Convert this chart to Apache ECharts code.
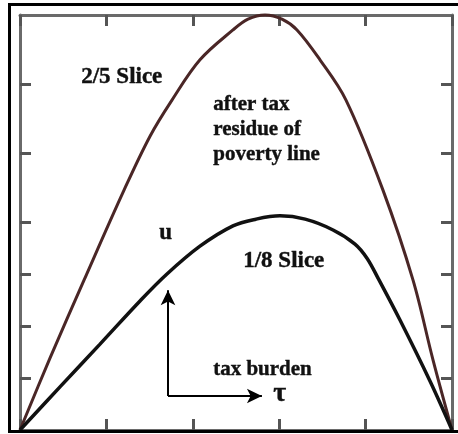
<!DOCTYPE html>
<html>
<head>
<meta charset="utf-8">
<script src="https://cdn.jsdelivr.net/npm/echarts@6/dist/echarts.min.js"></script>
<style>
  html, body { margin: 0; padding: 0; background: #fff; }
  #chart { width: 458px; height: 434px; }
</style>
</head>
<body>
<div id="chart"></div>
<script>
// tau (0..5) against u (0..1, top of the 2/5 slice = 1)
var sliceTwoFifthsX = [0, 0.347, 0.741, 1.204, 1.505, 1.759, 2.083, 2.465, 2.639, 2.836, 3.032, 3.206, 3.472, 3.773, 4.201, 4.549, 4.78, 5];
var sliceTwoFifthsY = [0, 0.173, 0.361, 0.578, 0.708, 0.795, 0.892, 0.964, 0.99, 1.0, 0.99, 0.964, 0.892, 0.795, 0.578, 0.361, 0.169, 0];

var sliceOneEighthX = [0, 0.463, 0.926, 1.389, 1.701, 2.083, 2.465, 2.731, 3.009, 3.3, 3.623, 3.877, 4.016, 4.144, 4.398, 4.745, 5];
var sliceOneEighthY = [0, 0.104, 0.207, 0.311, 0.376, 0.443, 0.492, 0.508, 0.516, 0.508, 0.482, 0.448, 0.414, 0.366, 0.265, 0.118, 0];

var xTickInterval = 1;
var yTickValues = [0.125, 0.25, 0.375, 0.5, 0.667, 0.833];

// axes arrow (u up, tau right) in data units
var arrowOrigin = [1.713, 0.082];
var arrowUpEnd = [1.713, 0.337];
var arrowRightEnd = [2.8, 0.082];

function pairs(xs, ys) {
    var out = [];
    for (var i = 0; i < xs.length; i++) out.push([xs[i], ys[i]]);
    return out;
}

var myChart = echarts.init(document.getElementById('chart'));

var serif = '"Liberation Serif", "Times New Roman", serif';
function label(text, x, y, size) {
    return {
        type: 'text', left: x, top: y, z: 10,
        style: { text: text, font: 'bold ' + size + 'px ' + serif, fill: '#111', stroke: '#111', lineWidth: 0.4 }
    };
}

var axisLineStyle = { color: '#6a6a6a', width: 3 };
var tickStyle = { color: '#555', width: 3 };

function xAxisCfg(pos) {
    return {
        type: 'value', position: pos, min: 0, max: 5, interval: xTickInterval,
        axisLine: { show: true, onZero: false, lineStyle: axisLineStyle },
        axisTick: { show: true, inside: true, length: 11, lineStyle: tickStyle },
        axisLabel: { show: false },
        splitLine: { show: false }
    };
}
function yAxisCfg(pos) {
    return {
        type: 'value', position: pos, min: 0, max: 1,
        axisLine: { show: true, onZero: false, lineStyle: axisLineStyle },
        axisTick: { show: true, inside: true, length: 11, lineStyle: tickStyle, customValues: yTickValues },
        axisLabel: { show: false },
        splitLine: { show: false }
    };
}

var option = {
    backgroundColor: '#ffffff',
    animation: false,
    grid: { left: 20, top: 15, right: 6, bottom: 4 },
    xAxis: [xAxisCfg('bottom'), xAxisCfg('top')],
    yAxis: [yAxisCfg('left'), yAxisCfg('right')],
    series: [
        {
            name: '2/5 Slice', type: 'line', smooth: 0.35, showSymbol: false, clip: false,
            data: pairs(sliceTwoFifthsX, sliceTwoFifthsY),
            lineStyle: { color: '#4a2626', width: 3 }
        },
        {
            name: '1/8 Slice', type: 'line', smooth: 0.35, showSymbol: false,
            data: pairs(sliceOneEighthX, sliceOneEighthY),
            lineStyle: { color: '#111', width: 3.5 },
            markLine: {
                silent: true, symbol: ['none', 'arrow'], symbolSize: [11, 15],
                label: { show: false },
                lineStyle: { color: '#000', width: 2, type: 'solid' },
                data: [
                    [{ coord: arrowOrigin }, { coord: arrowUpEnd }],
                    [{ coord: arrowOrigin }, { coord: arrowRightEnd }]
                ]
            }
        }
    ],
    graphic: [
        { type: 'rect', shape: { x: 9.5, y: 4.5, width: 460, height: 427 },
          style: { fill: 'none', stroke: '#000', lineWidth: 3 }, z: 20 },
        label('2/5 Slice', 81, 65, 23),
        label('after tax', 213, 94, 21),
        label('residue of', 213, 119, 21),
        label('poverty line', 213, 144, 21),
        label('u', 159, 221, 23),
        label('1/8 Slice', 243, 249, 23),
        label('tax burden', 213, 359, 21),
        label('τ', 273, 380, 28)
    ]
};

myChart.setOption(option);
</script>
</body>
</html>
